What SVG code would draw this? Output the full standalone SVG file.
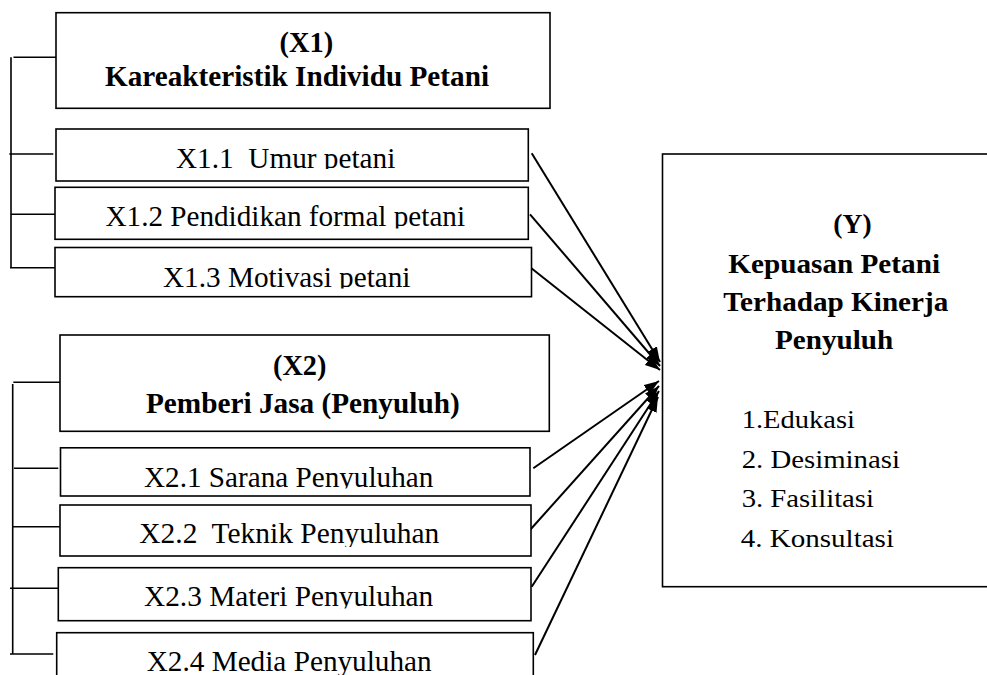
<svg xmlns="http://www.w3.org/2000/svg" width="987" height="675" viewBox="0 0 987 675">
<style>
.box{fill:#fff;stroke:#000;stroke-width:1.6}
.ln{fill:none;stroke:#000;stroke-width:1.6}
.ar{fill:none;stroke:#000;stroke-width:2}
text{font-family:"Liberation Serif","Times New Roman",serif;fill:#000}
.r{font-size:28.5px}
.b{font-size:28.5px;font-weight:bold}
.yb{font-size:27.5px;font-weight:bold}
.li{font-size:26px}
</style>
<defs>
<marker id="ah" markerUnits="userSpaceOnUse" markerWidth="16" markerHeight="12" refX="15" refY="5.5" orient="auto">
<path d="M0,0 L15,5.5 L0,11 Z" fill="#000"/>
</marker>
<clipPath id="c11"><rect x="56" y="129" width="472" height="40"/></clipPath>
<clipPath id="c12"><rect x="55" y="187" width="473" height="41.5"/></clipPath>
<clipPath id="c13"><rect x="55" y="247" width="476" height="41.5"/></clipPath>
<clipPath id="c21"><rect x="60" y="448" width="470" height="40.5"/></clipPath>
<clipPath id="c22"><rect x="60" y="505" width="471" height="42"/></clipPath>
<clipPath id="c23"><rect x="58" y="568" width="473" height="40.5"/></clipPath>
</defs>
<rect width="987" height="675" fill="#fff"/>

<g id="connectors">
<path class="ln" d="M11,57.3 V267.7 M13.5,57.3 H56 M9.3,154 H53.3 M11,214.3 H55 M10,267.7 H55"/>
<path class="ln" d="M12.7,384 V654 M13.3,382.3 H60 M14,468.3 H58.3 M12.7,526.7 H60 M10,588.3 H61 M10,654 H53.3"/>
<line class="ar" x1="531.7" y1="153.3" x2="660" y2="362" marker-end="url(#ah)"/>
<line class="ar" x1="530" y1="214.3" x2="660" y2="366" marker-end="url(#ah)"/>
<line class="ar" x1="529.5" y1="266.7" x2="660" y2="370" marker-end="url(#ah)"/>
<line class="ar" x1="533.3" y1="468.3" x2="659" y2="381" marker-end="url(#ah)"/>
<line class="ar" x1="530" y1="530" x2="659" y2="386" marker-end="url(#ah)"/>
<line class="ar" x1="531.7" y1="586.7" x2="659" y2="391" marker-end="url(#ah)"/>
<line class="ar" x1="535" y1="655" x2="658" y2="397" marker-end="url(#ah)"/>
</g>

<g id="x1-header">
<rect class="box" x="56" y="12.7" width="494" height="95.6"/>
<text class="b" x="279.6" y="51.7" textLength="53.7" lengthAdjust="spacingAndGlyphs">(X1)</text>
<text class="b" x="105" y="86" textLength="384" lengthAdjust="spacingAndGlyphs">Kareakteristik Individu Petani</text>
</g>
<g id="x1-1">
<rect class="box" x="56" y="129" width="472.3" height="52"/>
<text class="r" x="176" y="167.5" textLength="219.3" lengthAdjust="spacingAndGlyphs" xml:space="preserve" clip-path="url(#c11)">X1.1  Umur petani</text>
</g>
<g id="x1-2">
<rect class="box" x="55" y="187.3" width="473.3" height="52"/>
<text class="r" x="105.5" y="226" textLength="359.5" lengthAdjust="spacingAndGlyphs" clip-path="url(#c12)">X1.2 Pendidikan formal petani</text>
</g>
<g id="x1-3">
<rect class="box" x="55" y="247.5" width="476.5" height="49.2"/>
<text class="r" x="163" y="286.7" textLength="247.5" lengthAdjust="spacingAndGlyphs" clip-path="url(#c13)">X1.3 Motivasi petani</text>
</g>

<g id="x2-header">
<rect class="box" x="60" y="335" width="489.3" height="96.3"/>
<text class="b" x="273" y="374.5" textLength="53.4" lengthAdjust="spacingAndGlyphs">(X2)</text>
<text class="b" x="146" y="413" textLength="313.7" lengthAdjust="spacingAndGlyphs">Pemberi Jasa (Penyuluh)</text>
</g>
<g id="x2-1">
<rect class="box" x="60.5" y="447.8" width="469.5" height="48.2"/>
<text class="r" x="144" y="486.7" textLength="289.3" lengthAdjust="spacingAndGlyphs" clip-path="url(#c21)">X2.1 Sarana Penyuluhan</text>
</g>
<g id="x2-2">
<rect class="box" x="60" y="505" width="471" height="51"/>
<text class="r" x="139.3" y="543.3" textLength="300" lengthAdjust="spacingAndGlyphs" xml:space="preserve" clip-path="url(#c22)">X2.2  Teknik Penyuluhan</text>
</g>
<g id="x2-3">
<rect class="box" x="58.3" y="567.7" width="472.7" height="53"/>
<text class="r" x="144" y="606" textLength="289.3" lengthAdjust="spacingAndGlyphs" clip-path="url(#c23)">X2.3 Materi Penyuluhan</text>
</g>
<g id="x2-4">
<rect class="box" x="56.7" y="632.7" width="476.6" height="60"/>
<text class="r" x="146.7" y="670.5" textLength="285" lengthAdjust="spacingAndGlyphs">X2.4 Media Penyuluhan</text>
</g>

<g id="y-node">
<rect class="box" x="662.5" y="154" width="500" height="432.7"/>
<text class="yb" x="833.3" y="233.3" textLength="38.3" lengthAdjust="spacingAndGlyphs">(Y)</text>
<text class="yb" x="728.3" y="272.7" textLength="211.7" lengthAdjust="spacingAndGlyphs">Kepuasan Petani</text>
<text class="yb" x="723.3" y="310.7" textLength="225" lengthAdjust="spacingAndGlyphs">Terhadap Kinerja</text>
<text class="yb" x="775" y="349.3" textLength="118.3" lengthAdjust="spacingAndGlyphs">Penyuluh</text>
<text class="li" x="741.7" y="428.3" textLength="113.3" lengthAdjust="spacingAndGlyphs">1.Edukasi</text>
<text class="li" x="741.7" y="468.3" textLength="158.3" lengthAdjust="spacingAndGlyphs">2. Desiminasi</text>
<text class="li" x="741.7" y="507.3" textLength="132.3" lengthAdjust="spacingAndGlyphs">3. Fasilitasi</text>
<text class="li" x="740.7" y="546.7" textLength="153.3" lengthAdjust="spacingAndGlyphs">4. Konsultasi</text>
</g>
</svg>
